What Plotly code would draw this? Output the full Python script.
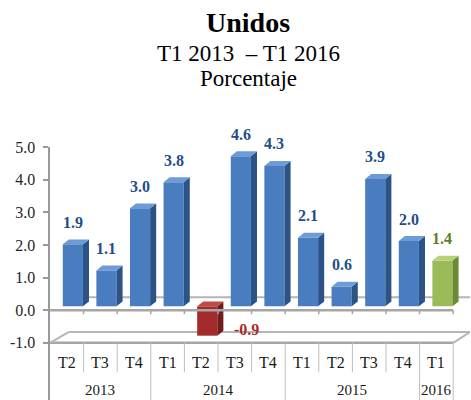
import plotly.graph_objects as go

# ---- data ----
quarters = ["T2", "T3", "T4", "T1", "T2", "T3", "T4", "T1", "T2", "T3", "T4", "T1"]
years = ["2013", "2014", "2015", "2016"]
year_counts = [3, 4, 4, 1]
values = [1.9, 1.1, 3.0, 3.8, -0.9, 4.6, 4.3, 2.1, 0.6, 3.9, 2.0, 1.4]
y_ticks = [-1.0, 0.0, 1.0, 2.0, 3.0, 4.0, 5.0]
title_lines = ["<b>Unidos</b>", "T1 2013  – T1 2016", "Porcentaje"]

# ---- layout constants ----
W, H = 471, 400
M_T = 147
Y_MIN, Y_MAX = -2.75, 5.0
X_MIN, X_MAX = -0.5, 12.0
FONT = "'Liberation Serif', 'Times New Roman', serif"

BASE = 0.12     # bars sit slightly behind the front edge of the floor
XOFF = 0.18     # horizontal 3D shift of the bars
BW = 0.6        # bar width (category units)
DX, DY = 0.18, 0.15  # depth of the 3D faces

PAL = {
    "blue": ("#4a7dbf", "#2c5386", "#6d9bd6", "#1f4e8c"),
    "red": ("#a32b2b", "#701c1c", "#bf4a4a", "#a82a2a"),
    "green": ("#9bbb59", "#6c8a33", "#b7d17a", "#5f7f1f"),
}


def kind(i, v):
    if v < 0:
        return "red"
    if i == len(values) - 1:
        return "green"
    return "blue"


def py(px):  # pixel row -> paper y
    return (H - px) / (H - M_T)


fig = go.Figure()

grey = "#a6a6a6"
shapes = []
# back 0 line
shapes.append(dict(type="line", xref="x", yref="y", x0=0.0, x1=X_MAX, y0=0.4, y1=0.4,
                   line=dict(color="#b5b5b5", width=2), layer="below"))
# floor at -1
fl = -1.0
shapes += [
    dict(type="line", xref="x", yref="y", x0=-0.5, x1=11.5, y0=fl, y1=fl, line=dict(color=grey, width=2.5), layer="below"),
    dict(type="line", xref="x", yref="y", x0=0.05, x1=12.0, y0=fl + 0.33, y1=fl + 0.33, line=dict(color="#b5b5b5", width=2), layer="below"),
    dict(type="line", xref="x", yref="y", x0=-0.5, x1=0.05, y0=fl, y1=fl + 0.33, line=dict(color="#b5b5b5", width=2), layer="below"),
    dict(type="line", xref="x", yref="y", x0=11.5, x1=12.0, y0=fl, y1=fl + 0.33, line=dict(color="#b5b5b5", width=2), layer="below"),
]

# category separators
bounds = set()
acc = -0.5
for c in year_counts:
    acc += c
    bounds.add(acc)
for k in range(len(quarters)):
    xb = k + 0.5
    full = xb in bounds
    shapes.append(dict(type="line", xref="x", yref="y", x0=xb, x1=xb, y0=fl,
                       y1=(Y_MIN if full else -1.9), line=dict(color="#bfbfbf", width=1)))
    shapes.append(dict(type="line", xref="x", yref="y", x0=xb, x1=xb, y0=0, y1=-0.12,
                       line=dict(color=grey, width=1.5)))

# bars
for grp in ["blue", "red", "green"]:
    idx = [i for i, v in enumerate(values) if kind(i, v) == grp]
    if not idx:
        continue
    front, side, top, _ = PAL[grp]
    fig.add_trace(go.Bar(x=[i + XOFF for i in idx], y=[values[i] for i in idx], base=BASE,
                         width=BW, marker=dict(color=front, line=dict(width=0)),
                         showlegend=False, hoverinfo="skip"))
    sx, sy, tx, ty = [], [], [], []
    for i in idx:
        v = values[i]
        xl = i + XOFF - BW / 2
        xr = i + XOFF + BW / 2
        b, t = BASE, BASE + v
        hi = max(b, t)
        lo = min(b, t)
        sx += [xr, xr + DX, xr + DX, xr, xr, None]
        sy += [lo, lo + DY, hi + DY, hi, lo, None]
        tx += [xl, xl + DX, xr + DX, xr, xl, None]
        ty += [hi, hi + DY, hi + DY, hi, hi, None]
    fig.add_trace(go.Scatter(x=sx, y=sy, fill="toself", fillcolor=side, mode="lines",
                             line=dict(width=0, color=side), showlegend=False, hoverinfo="skip"))
    fig.add_trace(go.Scatter(x=tx, y=ty, fill="toself", fillcolor=top, mode="lines",
                             line=dict(width=0, color=top), showlegend=False, hoverinfo="skip"))

# front 0 line
shapes.append(dict(type="line", xref="x", yref="y", x0=-0.5, x1=11.5, y0=0, y1=0,
                   line=dict(color=grey, width=2.5)))

annotations = []
for i, v in enumerate(values):
    col = PAL[kind(i, v)][3]
    txt = f"<b>{v:.1f}</b>"
    if v >= 0:
        annotations.append(dict(x=i + XOFF, y=v + BASE, xref="x", yref="y", text=txt, showarrow=False,
                                yanchor="middle", yshift=22, font=dict(family=FONT, size=16, color=col)))
    else:
        annotations.append(dict(x=i + 0.92, y=v + BASE, xref="x", yref="y", text=txt, showarrow=False,
                                xanchor="left", yanchor="middle", yshift=6,
                                font=dict(family=FONT, size=16, color=col)))

for i, q in enumerate(quarters):
    annotations.append(dict(x=i, y=py(362), xref="x", yref="paper", text=q, showarrow=False,
                            yanchor="middle", font=dict(family=FONT, size=16, color="#1a1a1a")))
start = 0
for yr, c in zip(years, year_counts):
    center = start + (c - 1) / 2
    annotations.append(dict(x=center, y=py(390), xref="x", yref="paper", text=yr, showarrow=False,
                            yanchor="middle", font=dict(family=FONT, size=15, color="#1a1a1a")))
    start += c

dom_w = W - 50 - 1
title_px = [23, 54, 78]
title_sz = [28, 23, 23]
for t, ypx, sz in zip(title_lines, title_px, title_sz):
    annotations.append(dict(x=(248 - 50) / dom_w, y=py(ypx), xref="paper", yref="paper", text=t,
                            showarrow=False, yanchor="middle", xanchor="center",
                            font=dict(family=FONT, size=sz, color="#000000")))

fig.update_layout(
    width=W, height=H,
    margin=dict(l=50, r=1, t=M_T, b=0, pad=0),
    paper_bgcolor="white", plot_bgcolor="white",
    barmode="overlay",
    shapes=shapes, annotations=annotations,
    xaxis=dict(range=[X_MIN, X_MAX], visible=False, fixedrange=True),
    yaxis=dict(range=[Y_MIN, Y_MAX], tickvals=y_ticks, ticktext=[f"{t:.1f}" for t in y_ticks],
               showgrid=False, zeroline=False, showline=True, linecolor="#999999", linewidth=2.5,
               ticks="outside", ticklen=5, tickwidth=2, tickcolor="#999999",
               tickfont=dict(family=FONT, size=16, color="#262626"), ticklabelstandoff=4,
               fixedrange=True),
    showlegend=False,
)

fig.write_html("out.html", config={"displayModeBar": False, "staticPlot": True},
               post_script="document.body.style.margin='0';document.body.style.padding='0';")
